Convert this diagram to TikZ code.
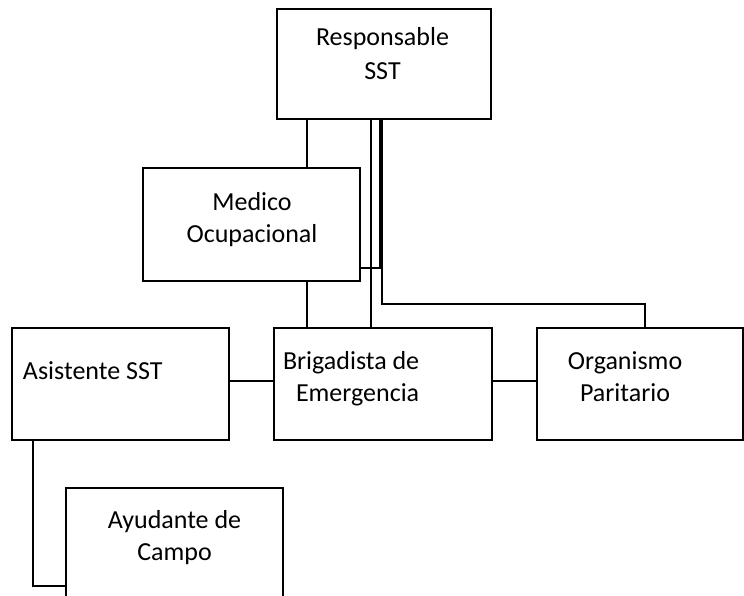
\documentclass[tikz,border=0pt]{standalone}
\usepackage{fontspec}
\setmainfont{Carlito}
\usepackage{tikz}

\begin{document}
\begin{tikzpicture}[x=1pt, y=-1pt, line width=2pt,
        box/.style={draw, rectangle, inner sep=0pt, minimum width=217pt, minimum height=112pt},
        txt/.style={inner sep=0pt, anchor=base, align=center, font=\fontsize{26}{32}\selectfont}]
        \useasboundingbox (0,0) rectangle (744,596);

        \node[box, minimum width=214pt, minimum height=110pt] (Responsable) at (384,64) {};
        \node[box, minimum height=113pt] (Medico) at (251.5,224.5) {};
        \node[box] (Asistente) at (120.5,384) {};
        \node[box, minimum width=218pt] (Brigadista) at (383,384) {};
        \node[box, minimum width=206pt] (Organismo) at (640,384) {};
        \node[box] (Ayudante) at (174.5,544) {};

        \node[txt] (ResponsableT) at (382.5,80) {Responsable\\[2pt]SST};
        \node[txt] (MedicoT) at (252,242) {Medico\\Ocupacional};
        \node[txt, anchor=base west] (AsistenteT) at (22,379) {Asistente SST};
        \node[txt, anchor=base west, align=left] (BrigadistaT) at (282,401) {Brigadista de\\\hspace*{13pt}Emergencia};
        \node[txt] (OrganismoT) at (625,401) {Organismo\\Paritario};
        \node[txt] (AyudanteT) at (174.5,560) {Ayudante de\\Campo};

        \coordinate (codo) at (645,304);

        \draw (Responsable.south -| 307,0) -- (Medico.north -| 307,0);
        \draw (Medico.south -| 307,0) -- (Brigadista.north -| 307,0);
        \draw (Responsable.south -| 371,0) -- (Brigadista.north -| 371,0);
        \draw (Responsable.south -| 379.7,0) |- (Medico.east |- 0,268);
        \draw (Responsable.south -| 381.7,0) |- (codo) -- (Organismo.north -| codo);
        \draw ([yshift=3pt]Asistente.east) -- ([yshift=3pt]Brigadista.west);
        \draw ([yshift=3pt]Brigadista.east) -- ([yshift=3pt]Organismo.west);
        \draw (Asistente.south -| 33,0) |- (Ayudante.west |- 0,586);

    \end{tikzpicture}
\end{document}
